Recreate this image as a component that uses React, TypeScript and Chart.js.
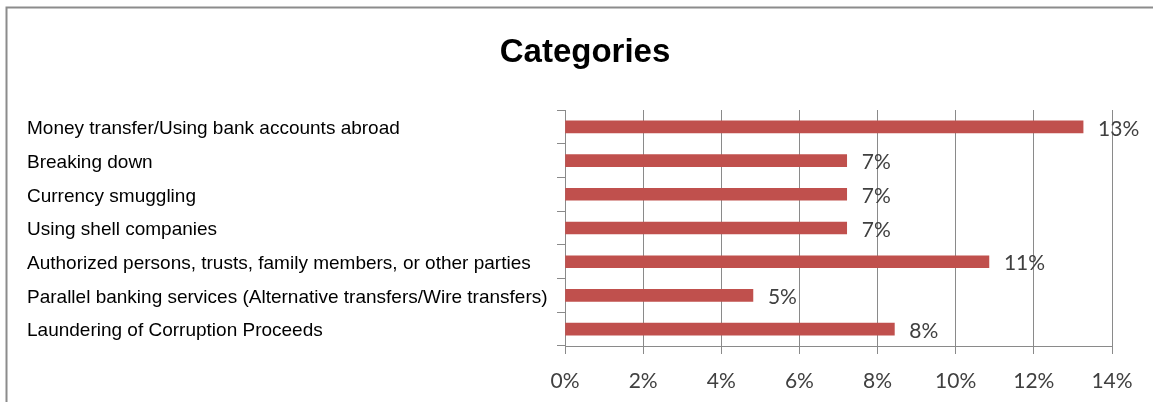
import React, { useEffect, useRef } from "react";
import { Chart, registerables } from "chart.js";

Chart.register(...registerables);

const TITLE = "Categories";
const categories = [
  "Money transfer/Using bank accounts abroad",
  "Breaking down",
  "Currency smuggling",
  "Using shell companies",
  "Authorized persons, trusts, family members, or other parties",
  "Parallel banking services (Alternative transfers/Wire transfers)",
  "Laundering of Corruption Proceeds",
];
const shareValues = [13.26, 7.21, 7.21, 7.21, 10.85, 4.81, 8.43];
const xTickMin = 0;
const xTickMax = 14;
const xTickStep = 2;

const GRID = "#8a8a8a";
const BAR = "#C0504D";

const framePlugin = {
  id: "framePlugin",
  beforeDraw(chart: any) {
    const ctx = chart.ctx;
    ctx.save();
    ctx.fillStyle = "#ffffff";
    ctx.fillRect(0, 0, chart.width, chart.height);
    ctx.strokeStyle = "#8c8c8c";
    ctx.lineWidth = 2;
    ctx.beginPath();
    ctx.moveTo(6.5, chart.height);
    ctx.lineTo(6.5, 7.5);
    ctx.lineTo(chart.width, 7.5);
    ctx.stroke();
    ctx.fillStyle = "#000000";
    ctx.font = "bold 33px 'Liberation Sans', Arial, sans-serif";
    ctx.textAlign = "center";
    ctx.textBaseline = "alphabetic";
    ctx.fillText(TITLE, 585, 62);
    ctx.restore();
  },
};

const valueLabelPlugin = {
  id: "valueLabelPlugin",
  afterDatasetsDraw(chart: any) {
    const ctx = chart.ctx;
    const meta = chart.getDatasetMeta(0);
    const data = chart.data.datasets[0].data as number[];
    ctx.save();
    ctx.fillStyle = "#404040";
    ctx.font = "21px Lato, 'Liberation Sans', sans-serif";
    ctx.textAlign = "left";
    ctx.textBaseline = "middle";
    meta.data.forEach((bar: any, i: number) => {
      ctx.fillText(Math.round(data[i]) + "%", bar.x + 15, bar.y + 2);
    });
    ctx.restore();
  },
};

export default function App() {
  const canvasRef = useRef<HTMLCanvasElement | null>(null);

  useEffect(() => {
    document.body.style.margin = "0";
    const canvas = canvasRef.current;
    if (!canvas) return;
    const chart = new Chart(canvas, {
      type: "bar",
      data: {
        labels: categories,
        datasets: [
          {
            data: shareValues,
            backgroundColor: BAR,
            borderWidth: 0,
            barThickness: 12,
          },
        ],
      },
      options: {
        indexAxis: "y",
        responsive: false,
        animation: false,
        devicePixelRatio: 1,
        layout: { padding: { top: 110, left: 27, right: 41, bottom: 0 } },
        plugins: {
          legend: { display: false },
          title: { display: false },
          tooltip: { enabled: false },
        },
        scales: {
          x: {
            type: "linear",
            min: xTickMin,
            max: xTickMax,
            afterFit: (scale: any) => {
              scale.height = 56;
            },
            ticks: {
              stepSize: xTickStep,
              padding: 15,
              color: "#404040",
              font: { family: "Lato, 'Liberation Sans', sans-serif", size: 21 },
              callback: (v: any) => v + "%",
            },
            grid: {
              color: GRID,
              lineWidth: 1,
              drawTicks: true,
              tickLength: 8,
            },
            border: { color: GRID, width: 1 },
          },
          y: {
            type: "category",
            afterFit: (scale: any) => {
              scale.width = 538;
            },
            ticks: {
              crossAlign: "far",
              color: "#000000",
              padding: 4,
              labelOffset: 2,
              font: { family: "'Liberation Sans', Arial, sans-serif", size: 19 },
            },
            grid: {
              display: true,
              drawOnChartArea: false,
              drawTicks: true,
              tickLength: 8,
              color: GRID,
              offset: true,
            },
            border: { color: GRID, width: 1 },
          },
        },
      },
      plugins: [framePlugin, valueLabelPlugin],
    });
    return () => chart.destroy();
  }, []);

  return (
    <div style={{ width: 1153, height: 402, overflow: "hidden" }}>
      <canvas ref={canvasRef} width={1153} height={402} style={{ display: "block" }} />
    </div>
  );
}
